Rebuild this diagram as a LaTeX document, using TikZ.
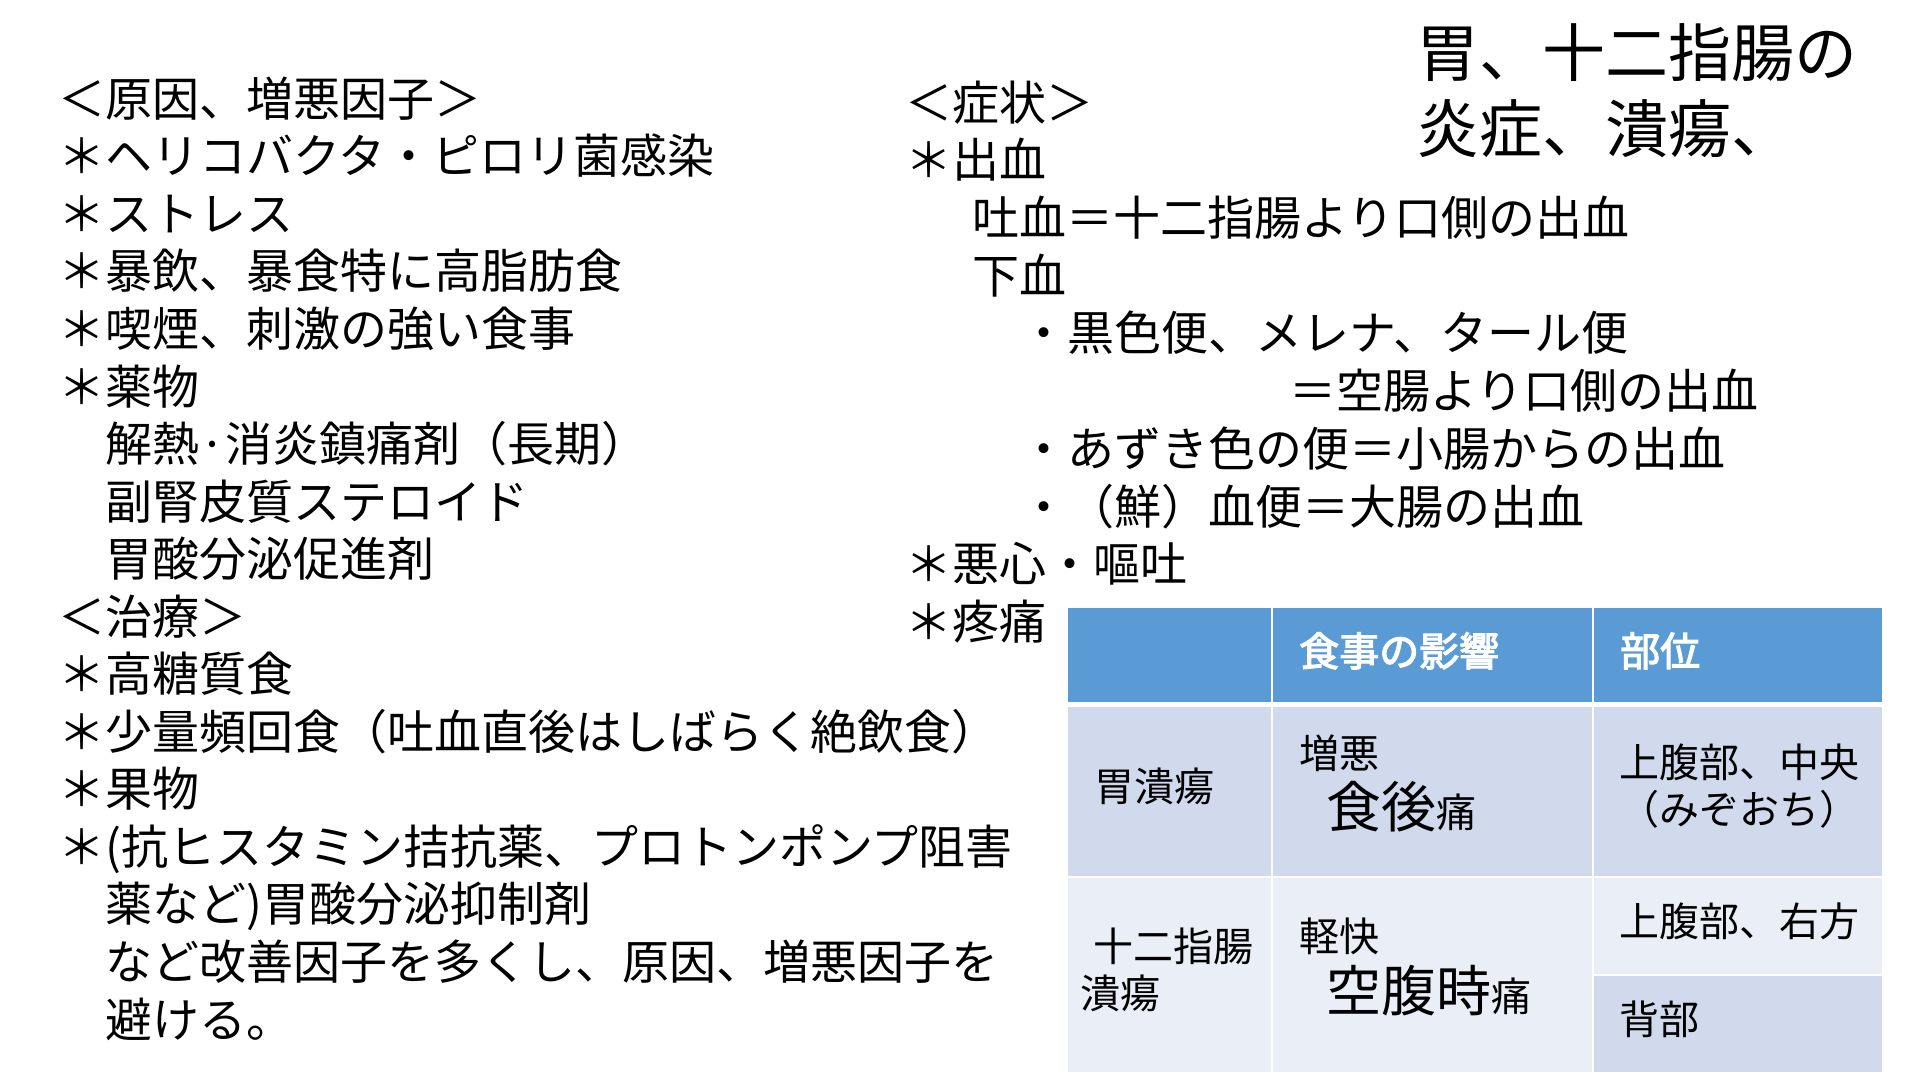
\documentclass[tikz,border=0pt]{standalone}
\usepackage{fontspec}
\setmainfont{Noto Sans CJK JP}
\newfontfamily\hdrfont[FakeBold=3]{Noto Sans CJK JP}
\definecolor{hdrblue}{HTML}{5B9BD5}
\definecolor{banddark}{HTML}{D0DAEC}
\definecolor{bandlight}{HTML}{E9EEF7}
\tikzset{
  line/.style={anchor=base west, inner sep=0pt, font=\fontsize{47}{47}\selectfont},
  ttl/.style={anchor=base west, inner sep=0pt, font=\fontsize{63}{63}\selectfont},
  cell/.style={anchor=base west, inner sep=0pt, font=\fontsize{40}{40}\selectfont},
  hcell/.style={anchor=base west, inner sep=0pt, text=white, font=\hdrfont\fontsize{40}{40}\selectfont},
}
\newcommand{\bigtxt}[1]{{\fontsize{55}{55}\selectfont #1}}
\begin{document}
\begin{tikzpicture}[x=1pt,y=-1pt]
\useasboundingbox (0,0) rectangle (1920,1080);
\fill[white] (0,0) rectangle (1920,1080);

% title
\node[ttl] (t1) at (1416,76) {胃、十二指腸の};
\node[ttl] (t2) at (1416,152) {炎症、潰瘍、};

% left column
\node[line] (l0) at (58,116) {＜原因、増悪因子＞};
\node[line] (l1) at (58,173.5) {＊ヘリコバクタ・ピロリ菌感染};
\node[line] (l2) at (58,231) {＊ストレス};
\node[line] (l3) at (58,288.5) {＊暴飲、暴食特に高脂肪食};
\node[line] (l4) at (58,346) {＊喫煙、刺激の強い食事};
\node[line] (l5) at (58,404) {＊薬物};
\node[line] (l6) at (105,461) {解熱·消炎鎮痛剤（長期）};
\node[line] (l7) at (105,519) {副腎皮質ステロイド};
\node[line] (l8) at (105,576.5) {胃酸分泌促進剤};
\node[line] (l9) at (58,634) {＜治療＞};
\node[line] (l10) at (58,691.5) {＊高糖質食};
\node[line] (l11) at (58,749) {＊少量頻回食（吐血直後はしばらく絶飲食）};
\node[line] (l12) at (58,806.5) {＊果物};
\node[line] (l13) at (58,864) {＊(抗ヒスタミン拮抗薬、プロトンポンプ阻害};
\node[line] (l14) at (105,921.5) {薬など)胃酸分泌抑制剤};
\node[line] (l15) at (105,979) {など改善因子を多くし、原因、増悪因子を};
\node[line] (l16) at (105,1037) {避ける。};

% right column
\node[line] (r0) at (905,120) {＜症状＞};
\node[line] (r1) at (905,177.6) {＊出血};
\node[line] (r2) at (972,235.3) {吐血＝十二指腸より口側の出血};
\node[line] (r3) at (972,293) {下血};
\node[line] (r4) at (1020,350.7) {・黒色便、メレナ、タール便};
\node[line] (r5) at (1289,408.4) {＝空腸より口側の出血};
\node[line] (r6) at (1020,466) {・あずき色の便＝小腸からの出血};
\node[line] (r7) at (1020,524) {・（鮮）血便＝大腸の出血};
\node[line] (r8) at (905,581.5) {＊悪心・嘔吐};
\node[line] (r9) at (905,639.2) {＊疼痛};

% table cells
\fill[hdrblue] (1068,608) rectangle (1271,702);
\fill[hdrblue] (1273,608) rectangle (1592,702);
\fill[hdrblue] (1594,608) rectangle (1882,702);
\fill[banddark] (1068,707) rectangle (1271,876);
\fill[banddark] (1273,707) rectangle (1592,876);
\fill[banddark] (1594,707) rectangle (1882,876);
\fill[bandlight] (1068,878) rectangle (1271,1072);
\fill[bandlight] (1273,878) rectangle (1592,1072);
\fill[bandlight] (1594,878) rectangle (1882,974);
\fill[banddark] (1594,976) rectangle (1882,1072);

% table text
\node[hcell] (h1) at (1299,666) {食事の影響};
\node[hcell] (h2) at (1620,666) {部位};
\node[cell] (c11) at (1094,801) {胃潰瘍};
\node[cell] (c12a) at (1299,768) {増悪};
\node[cell] (c12b) at (1326,827) {\bigtxt{食後}痛};
\node[cell] (c13a) at (1619,777) {上腹部、中央};
\node[cell] (c13b) at (1619,824) {（みぞおち）};
\node[cell] (c21a) at (1093,961) {十二指腸};
\node[cell] (c21b) at (1080,1008) {潰瘍};
\node[cell] (c22a) at (1299,951) {軽快};
\node[cell] (c22b) at (1326,1011.6) {\bigtxt{空腹時}痛};
\node[cell] (c23a) at (1619,936) {上腹部、右方};
\node[cell] (c23b) at (1619,1034) {背部};
\end{tikzpicture}
\end{document}
